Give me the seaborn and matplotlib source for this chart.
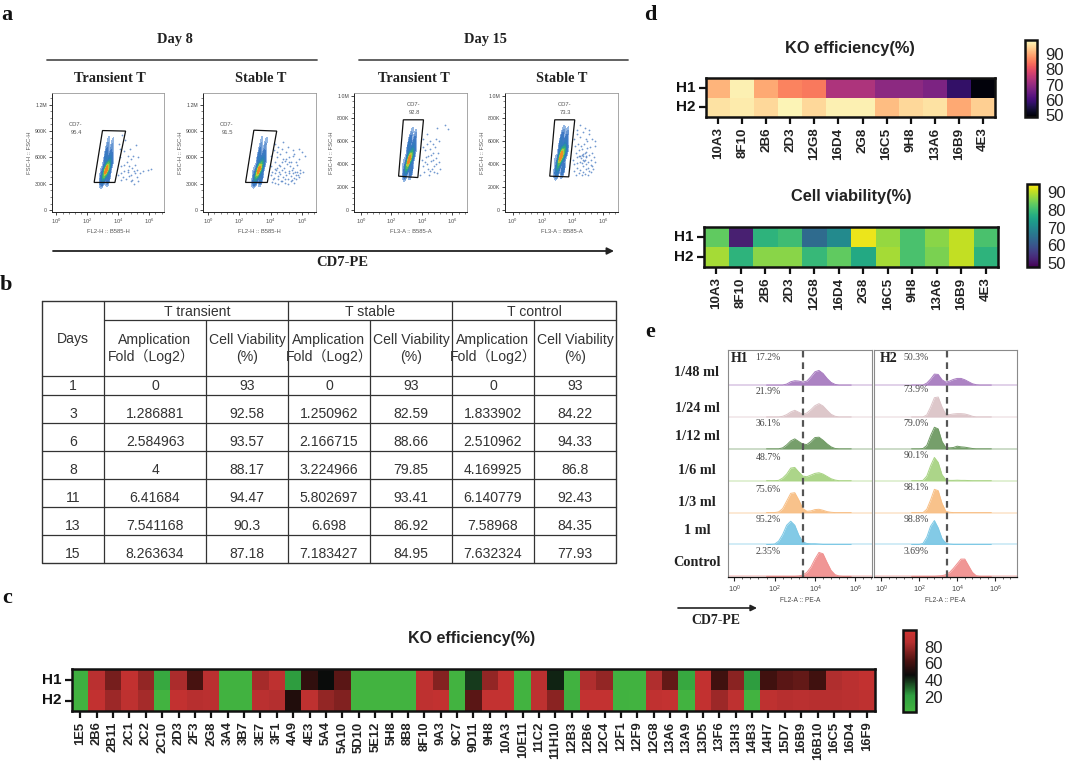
import numpy as np
import pandas as pd
import matplotlib
matplotlib.use("Agg")
import matplotlib.pyplot as plt
import seaborn as sns
from matplotlib.colors import LinearSegmentedColormap
from matplotlib.ticker import FixedLocator

sns.set_theme(style="white")
plt.rcParams['font.family'] = ['Liberation Sans', 'Noto Sans CJK SC', 'DejaVu Sans']
plt.rcParams['mathtext.fontset'] = 'custom'
plt.rcParams['mathtext.rm'] = 'Liberation Sans'
SERIF = 'Liberation Serif'

# ---------- panel a: flow plots ----------
# core density anchors (log10 signal, FSC in millions, weight)
core1_x = [3.25, 3.10, 3.40, 3.00, 3.35, 2.90, 3.60, 3.20, 3.50, 3.30, 3.60, 3.40, 3.70, 2.85]
core1_y = [0.47, 0.42, 0.50, 0.36, 0.36, 0.45, 0.55, 0.60, 0.62, 0.72, 0.74, 0.84, 0.82, 0.34]
core1_w = [12, 7, 7, 4, 4, 1.5, 2, 4, 3, 2, 1.5, 1, 0.7, 1.5]
core2_x = [3.28, 3.13, 3.43, 3.03, 3.38, 2.93, 3.63, 3.26, 3.56, 3.36, 3.66, 3.48, 3.76, 2.88]
core2_y = [0.47, 0.42, 0.50, 0.36, 0.36, 0.45, 0.55, 0.60, 0.62, 0.72, 0.74, 0.84, 0.82, 0.34]
core2_w = [12, 7, 7, 4, 4, 1.5, 2, 4, 3, 2, 1.5, 1, 0.7, 1.5]
core3_x = [3.18, 3.03, 3.33, 2.95, 3.28, 2.82, 3.52, 3.15, 3.45, 3.25, 3.55, 3.40, 3.62, 2.78]
core3_y = [0.45, 0.40, 0.47, 0.33, 0.34, 0.42, 0.50, 0.55, 0.56, 0.63, 0.64, 0.71, 0.69, 0.32]
core3_w = [12, 7, 7, 4, 4, 1.5, 2, 4, 3, 2, 1.5, 1, 0.7, 1.5]
core4_x = [3.24, 3.07, 3.41, 2.98, 3.34, 2.84, 3.60, 3.20, 3.50, 3.30, 3.62, 3.44, 3.68, 2.80]
core4_y = [0.48, 0.42, 0.50, 0.34, 0.35, 0.44, 0.52, 0.57, 0.58, 0.65, 0.66, 0.72, 0.71, 0.33]
core4_w = [12, 7, 7, 4, 4, 1.5, 2.5, 4, 3, 2, 1.5, 1, 0.7, 1.5]

dots1_x = [4.0, 4.2, 4.1, 4.4, 4.3, 4.6, 4.5, 4.8, 4.7, 5.0, 4.9, 5.2, 5.1, 5.4, 5.3, 4.05, 4.25, 4.55, 4.75, 4.95,
           5.15, 4.35, 4.65, 4.85, 5.05, 4.15, 4.45, 5.6, 5.9, 6.1, 4.6, 4.4, 4.2, 4.8, 5.0, 4.9, 4.7, 5.2, 5.3, 4.1]
dots1_y = [0.40, 0.42, 0.60, 0.45, 0.38, 0.43, 0.35, 0.40, 0.50, 0.45, 0.34, 0.38, 0.52, 0.42, 0.60, 0.75, 0.85, 0.55, 0.70, 0.62,
           0.74, 0.67, 0.46, 0.33, 0.42, 0.50, 0.80, 0.45, 0.46, 0.47, 0.62, 0.52, 0.34, 0.58, 0.30, 0.48, 0.39, 0.46, 0.33, 0.70]
dots2_x = [4.0, 4.1, 4.2, 4.3, 4.4, 4.5, 4.6, 4.7, 4.8, 4.9, 5.0, 5.1, 5.2, 5.3, 5.4, 5.5, 5.6, 5.7, 5.8, 5.9,
           4.05, 4.15, 4.25, 4.35, 4.45, 4.55, 4.65, 4.75, 4.85, 4.95, 5.05, 5.15, 5.25, 5.35, 5.45, 5.55, 5.65, 5.75,
           4.0, 4.2, 4.4, 4.6, 4.8, 5.0, 5.2, 5.4, 5.6, 5.8, 6.0, 6.2, 4.3, 4.5, 4.7, 4.9, 5.1, 5.3, 5.5, 5.7,
           4.1, 4.3, 4.5, 4.7, 4.9, 5.1, 5.3, 5.5, 5.9, 4.4, 4.8, 5.2, 6.1, 4.6, 5.0, 5.4, 5.8, 4.25, 4.55, 5.35]
dots2_y = [0.40, 0.44, 0.37, 0.42, 0.48, 0.36, 0.41, 0.46, 0.38, 0.43, 0.40, 0.36, 0.45, 0.39, 0.42, 0.37, 0.40, 0.44, 0.38, 0.42,
           0.50, 0.35, 0.55, 0.46, 0.39, 0.52, 0.33, 0.55, 0.48, 0.35, 0.53, 0.42, 0.50, 0.34, 0.48, 0.43, 0.35, 0.40,
           0.62, 0.68, 0.60, 0.64, 0.58, 0.66, 0.60, 0.62, 0.55, 0.58, 0.66, 0.62, 0.75, 0.72, 0.70, 0.56, 0.72, 0.55, 0.64, 0.52,
           0.32, 0.31, 0.30, 0.33, 0.31, 0.30, 0.33, 0.31, 0.46, 0.66, 0.78, 0.55, 0.43, 0.50, 0.58, 0.68, 0.70, 0.47, 0.44, 0.46]
dots3_x = [3.9, 4.0, 4.1, 4.2, 4.3, 4.4, 4.5, 4.6, 4.7, 4.8, 4.9, 5.0, 5.1, 5.2, 4.05, 4.15, 4.25, 4.35, 4.45, 4.55,
           4.65, 4.75, 4.85, 4.95, 5.05, 4.1, 4.3, 4.5, 4.7, 4.9, 5.1, 4.6, 4.8, 5.0, 5.5, 5.7, 4.4, 4.2]
dots3_y = [0.30, 0.44, 0.38, 0.52, 0.40, 0.47, 0.34, 0.43, 0.50, 0.38, 0.45, 0.32, 0.42, 0.36, 0.55, 0.33, 0.46, 0.58, 0.30, 0.53,
           0.36, 0.44, 0.55, 0.40, 0.50, 0.62, 0.66, 0.60, 0.58, 0.62, 0.60, 0.48, 0.33, 0.72, 0.74, 0.71, 0.36, 0.42]
dots4_x = [4.0, 4.1, 4.2, 4.3, 4.4, 4.5, 4.6, 4.7, 4.8, 4.9, 5.0, 5.1, 5.2, 5.3, 5.4, 5.5, 4.05, 4.15, 4.25, 4.35,
           4.45, 4.55, 4.65, 4.75, 4.85, 4.95, 5.05, 5.15, 5.25, 5.35, 4.1, 4.3, 4.5, 4.7, 4.9, 5.1, 5.3, 5.5, 4.2, 4.4,
           4.6, 4.8, 5.0, 5.2, 4.55, 4.65, 4.75, 4.85, 4.6, 4.7, 4.8, 4.9, 4.5, 4.7, 5.0, 4.3, 4.6, 4.9, 5.2, 4.4,
           4.8, 5.1, 4.45, 4.95, 5.45, 4.25]
dots4_y = [0.44, 0.40, 0.50, 0.46, 0.52, 0.42, 0.48, 0.44, 0.50, 0.46, 0.42, 0.48, 0.44, 0.50, 0.46, 0.42, 0.34, 0.56, 0.37, 0.58,
           0.35, 0.56, 0.33, 0.58, 0.36, 0.54, 0.34, 0.55, 0.38, 0.36, 0.62, 0.66, 0.64, 0.68, 0.62, 0.66, 0.62, 0.60, 0.30, 0.32,
           0.30, 0.31, 0.30, 0.33, 0.45, 0.47, 0.43, 0.47, 0.41, 0.49, 0.44, 0.51, 0.47, 0.38, 0.37, 0.41, 0.53, 0.40, 0.39, 0.47,
           0.72, 0.70, 0.74, 0.60, 0.56, 0.70]

gate1_x = [2.98, 4.47, 3.78, 2.44]
gate1_y = [0.906, 0.90, 0.316, 0.316]
gate2_x = [2.93, 4.39, 3.79, 2.40]
gate2_y = [0.91, 0.90, 0.316, 0.316]
gate3_x = [2.78, 4.10, 3.73, 2.47]
gate3_y = [0.788, 0.788, 0.282, 0.294]
gate4_x = [2.80, 4.13, 3.73, 2.47]
gate4_y = [0.788, 0.788, 0.288, 0.294]

# ---------- panel b: table ----------
days = ["1", "3", "6", "8", "11", "13", "15"]
t_transient_fold = ["0", "1.286881", "2.584963", "4", "6.41684", "7.541168", "8.263634"]
t_transient_via = ["93", "92.58", "93.57", "88.17", "94.47", "90.3", "87.18"]
t_stable_fold = ["0", "1.250962", "2.166715", "3.224966", "5.802697", "6.698", "7.183427"]
t_stable_via = ["93", "82.59", "88.66", "79.85", "93.41", "86.92", "84.95"]
t_control_fold = ["0", "1.833902", "2.510962", "4.169925", "6.140779", "7.58968", "7.632324"]
t_control_via = ["93", "84.22", "94.33", "86.8", "92.43", "84.35", "77.93"]

# ---------- panel c: big heatmap ----------
clones_c = ["1E5", "2B6", "2B11", "2C1", "2C2", "2C10", "2D3", "2F3", "2G8", "3A4", "3B7", "3E7", "3F1", "4A9", "4E3", "5A4",
            "5A10", "5D10", "5E12", "5H8", "8B8", "8F10", "9A3", "9C7", "9D11", "9H8", "10A3", "10E11", "11C2", "11H10",
            "12B3", "12B6", "12C4", "12F1", "12F9", "12G8", "13A6", "13A9", "13D5", "13F6", "13H3", "14B3", "14H7", "15D7",
            "16B9", "16B10", "16C5", "16D4", "16F9"]
ko_c_h1 = [8, 88, 72, 92, 78, 14, 83, 62, 88, 5, 5, 82, 90, 22, 56, 46, 66, 4, 4, 4, 5, 90, 75, 4, 38, 78, 92, 5, 88, 42,
           5, 84, 78, 5, 5, 84, 68, 14, 92, 60, 76, 22, 60, 66, 68, 60, 84, 88, 92]
ko_c_h2 = [4, 92, 80, 90, 82, 4, 92, 86, 88, 5, 5, 88, 85, 52, 90, 78, 74, 3, 3, 3, 4, 90, 92, 4, 66, 93, 93, 4, 90, 76,
           7, 93, 93, 5, 4, 91, 93, 4, 92, 80, 90, 4, 90, 86, 88, 86, 86, 88, 90]

# ---------- panel d: small heatmaps ----------
clones_d = ["10A3", "8F10", "2B6", "2D3", "12G8", "16D4", "2G8", "16C5", "9H8", "13A6", "16B9", "4E3"]
ko_d_h1 = [91, 97.5, 90, 86, 85, 73, 73, 69, 69, 67, 58, 50]
ko_d_h2 = [96, 97, 95, 98, 95, 97.5, 97.5, 92, 95, 96, 90, 94]
via_d_h1 = [83, 52, 78, 80, 64, 70, 93, 87, 81, 86, 90, 81]
via_d_h2 = [88, 78, 86, 86, 79, 83, 76, 88, 81, 85, 90, 78]

# ---------- panel e: histograms ----------
doses = ["Control", "1 ml", "1/3 ml", "1/6 ml", "1/12 ml", "1/24 ml", "1/48 ml"]
pct_h1 = ["2.35%", "95.2%", "75.6%", "48.7%", "36.1%", "21.9%", "17.2%"]
pct_h2 = ["3.69%", "98.8%", "98.1%", "90.1%", "79.0%", "73.9%", "50.3%"]
hist_colors = ["#f0908f", "#7cc8e5", "#f8bf85", "#a8d383", "#6f9a63", "#dcc4c8", "#a87cc0"]
log_grid = [1.6, 1.8, 2.0, 2.2, 2.4, 2.6, 2.8, 3.0, 3.2, 3.4, 3.6, 3.8, 4.0, 4.2, 4.4, 4.6, 4.8, 5.0, 5.2, 5.4, 5.6, 5.8]
h1_control = [0, 0, 0, 0, 0, 0, 0, 0, 1, 4, 12, 28, 52, 72, 68, 42, 18, 5, 1, 0, 0, 0]
h1_1ml = [0, 0, 1, 10, 30, 58, 70, 58, 28, 8, 3, 2, 2, 1, 0, 0, 0, 0, 0, 0, 0, 0]
h1_1_3 = [0, 0, 0, 2, 12, 35, 58, 60, 38, 12, 4, 5, 9, 10, 7, 3, 1, 0, 0, 0, 0, 0]
h1_1_6 = [0, 0, 0, 1, 8, 20, 38, 40, 26, 14, 12, 17, 22, 24, 20, 13, 6, 2, 0, 0, 0, 0]
h1_1_12 = [0, 0, 0, 0, 3, 12, 24, 30, 22, 14, 13, 22, 34, 35, 26, 15, 6, 1, 0, 0, 0, 0]
h1_1_24 = [0, 0, 0, 0, 2, 7, 15, 20, 14, 8, 12, 22, 34, 40, 33, 20, 8, 2, 0, 0, 0, 0]
h1_1_48 = [0, 0, 0, 0, 0, 3, 10, 13, 12, 9, 12, 25, 40, 44, 35, 20, 8, 2, 0, 0, 0, 0]
h2_control = [0, 0, 0, 0, 0, 0, 0, 1, 2, 5, 12, 24, 38, 52, 52, 32, 12, 2, 0, 0, 0, 0]
h2_1ml = [0, 0, 0, 3, 22, 55, 72, 50, 18, 4, 1, 0, 0, 0, 0, 0, 0, 0, 0, 0, 0, 0]
h2_1_3 = [0, 0, 0, 0, 10, 38, 70, 66, 28, 4, 1, 0, 0, 0, 0, 0, 0, 0, 0, 0, 0, 0]
h2_1_6 = [0, 0, 0, 1, 14, 45, 70, 55, 18, 3, 1, 1, 1.5, 1, 1, 0.5, 0, 0, 0, 0, 0, 0]
h2_1_12 = [0, 0, 0, 1, 10, 40, 65, 60, 22, 4, 3, 4, 8, 6, 5, 3, 1, 0, 0, 0, 0, 0]
h2_1_24 = [0, 0, 0, 0, 6, 30, 58, 60, 30, 8, 7, 9, 10, 10, 9, 6, 2, 0, 0, 0, 0, 0]
h2_1_48 = [0, 0, 0, 0, 6, 18, 33, 32, 16, 9, 12, 17, 20, 20, 16, 10, 4, 1, 0, 0, 0, 0]

W, H = 1080, 777
fig = plt.figure(figsize=(W / 100, H / 100), dpi=100, facecolor="white")


def px_axes(x0, y0, x1, y1):
    return fig.add_axes([x0 / W, 1 - y1 / H, (x1 - x0) / W, (y1 - y0) / H])


density_cmap = LinearSegmentedColormap.from_list(
    "flow", [(0, "#a9c6ea"), (0.12, "#3f78c4"), (0.35, "#2a7fb8"), (0.55, "#2fa880"), (0.72, "#6fc050"),
             (0.85, "#e8cf30"), (0.94, "#f08020"), (1, "#d83020")])


def flow_panel(box, xlim, ylim, yticks, yticklabels, core, dots, gate, xlabel):
    ax = px_axes(*box)
    frame = pd.DataFrame({"x": core[0], "y": core[1], "w": core[2]})
    sns.kdeplot(data=frame, x="x", y="y", weights="w", fill=True, levels=12, thresh=0.1,
                cmap=density_cmap, bw_adjust=0.72, ax=ax)
    ax.set_xlim(*xlim)
    ax.set_ylim(*ylim)
    ax.scatter(dots[0], dots[1], s=1.6, color="#4f7fc4", alpha=0.8, linewidths=0)
    ax.fill(gate[0], gate[1], fill=False, edgecolor="#111111", linewidth=0.9)
    ax.set_xticks([0, 2, 4, 6])
    ax.set_xticklabels(["$10^{0}$", "$10^{2}$", "$10^{4}$", "$10^{6}$"], fontsize=4.2, color="#555555")
    ax.set_xticks(np.arange(0, 7, 0.4), minor=True)
    ax.set_yticks(yticks)
    ax.set_yticklabels(yticklabels, fontsize=3.8, color="#444444")
    ax.tick_params(axis="both", which="major", length=2.2, width=0.6, pad=1.5, left=True, bottom=True)
    ax.tick_params(axis="both", which="minor", length=1.2, width=0.4, left=True, bottom=True)
    ax.yaxis.set_minor_locator(FixedLocator(np.arange(0, ylim[1], yticks[1] / 4)))
    ax.set_xlabel(xlabel, fontsize=4.2, color="#555555", labelpad=2)
    ax.set_ylabel("FSC-H :: FSC-H", fontsize=4.2, color="#555555", labelpad=1.5)
    for s in ["left", "bottom"]:
        ax.spines[s].set_color("#222222")
        ax.spines[s].set_linewidth(0.7)
    for s in ["top", "right"]:
        ax.spines[s].set_color("#999999")
        ax.spines[s].set_linewidth(0.6)


y8_ticks = [0, 0.3, 0.6, 0.9, 1.2]
y8_labels = ["0", "300K", "600K", "900K", "1.2M"]
y15_ticks = [0, 0.2, 0.4, 0.6, 0.8, 1.0]
y15_labels = ["0", "200K", "400K", "600K", "800K", "1.0M"]
flow_panel((52, 93, 164, 212), (-0.28, 6.95), (-0.02, 1.333), y8_ticks, y8_labels,
           (core1_x, core1_y, core1_w), (dots1_x, dots1_y), (gate1_x, gate1_y), "FL2-H :: B585-H")
flow_panel((203, 93, 316, 212), (-0.32, 6.9), (-0.02, 1.333), y8_ticks, y8_labels,
           (core2_x, core2_y, core2_w), (dots2_x, dots2_y), (gate2_x, gate2_y), "FL2-H :: B585-H")
flow_panel((354, 93, 467, 212), (-0.45, 6.95), (-0.02, 1.023), y15_ticks, y15_labels,
           (core3_x, core3_y, core3_w), (dots3_x, dots3_y), (gate3_x, gate3_y), "FL3-A :: B585-A")
flow_panel((505, 93, 618, 212), (-0.5, 7.0), (-0.02, 1.023), y15_ticks, y15_labels,
           (core4_x, core4_y, core4_w), (dots4_x, dots4_y), (gate4_x, gate4_y), "FL3-A :: B585-A")


# ---------- heatmaps ----------
def heat_panel(box, cbar_box, values, labels, cmap, vmin, vmax, cbar_ticks, tick_size, cbar_size):
    ax = px_axes(*box)
    cax = px_axes(*cbar_box)
    frame = pd.DataFrame(values, index=["H1", "H2"], columns=labels)
    sns.heatmap(frame, ax=ax, cbar_ax=cax, cmap=cmap, vmin=vmin, vmax=vmax, linewidths=0,
                xticklabels=labels, yticklabels=["H1", "H2"])
    ax.tick_params(axis="both", length=5, width=1.6, color="#111111", left=True, bottom=True, pad=2.5)
    ax.set_xticklabels(labels, rotation=90, fontsize=tick_size, fontweight="bold", color="#222222")
    ax.set_yticklabels(["H1", "H2"], rotation=0, fontsize=11, fontweight="bold", color="#111111")
    for s in ax.spines.values():
        s.set_visible(True)
        s.set_color("#111111")
        s.set_linewidth(1.8)
    cax.set_yticks(cbar_ticks)
    cax.tick_params(axis="y", direction="in", length=3.5, width=1, color="#111111",
                    labelsize=cbar_size, labelcolor="#222222", pad=6, right=True)
    cbar = ax.collections[0].colorbar
    cbar.outline.set_visible(True)
    cbar.outline.set_edgecolor("#111111")
    cbar.outline.set_linewidth(1.8)


ko_cmap = LinearSegmentedColormap.from_list(
    "ko", [(0, "#44b540"), (0.2, "#2f9f40"), (0.45, "#0a0a0a"), (0.62, "#4a1210"), (0.85, "#b52f2f"), (1, "#d03432")])
heat_panel((72, 669, 875, 711), (903, 630, 916, 712), [ko_c_h1, ko_c_h2], clones_c, ko_cmap, 2, 100,
           [20, 40, 60, 80], 9.4, 12)
heat_panel((706, 78, 995, 117), (1025, 40, 1037, 117), [ko_d_h1, ko_d_h2], clones_d, "magma", 49, 99,
           [50, 60, 70, 80, 90], 9.6, 12)
heat_panel((704, 227, 998, 267), (1027, 184, 1039, 267), [via_d_h1, via_d_h2], clones_d, "viridis", 48, 94.3,
           [50, 60, 70, 80, 90], 9.6, 12)


# ---------- histograms ----------
def hist_panel(box, xlim, rows, dash_x):
    ax = px_axes(*box)
    for i, (row, color) in enumerate(zip(rows, hist_colors)):
        heights = i + np.array(row) / 96
        ax.axhline(i, color=color, alpha=0.35, linewidth=1.4)
        ax.fill_between(log_grid, i, heights, color=color, alpha=0.95, linewidth=0)
        sns.lineplot(x=log_grid, y=heights, ax=ax, color=color, linewidth=0.7, errorbar=None)
    ax.set_xlim(*xlim)
    ax.set_ylim(-0.02, 7.1)
    ax.axvline(dash_x, color="#555555", linestyle=(0, (3, 2.2)), linewidth=1.6)
    ax.set_yticks([])
    ax.set_xticks([0, 2, 4, 6])
    ax.set_xticklabels(["$10^{0}$", "$10^{2}$", "$10^{4}$", "$10^{6}$"], fontsize=5.2, color="#444444")
    ax.set_xticks(np.arange(0, 7, 0.4), minor=True)
    ax.tick_params(axis="x", which="major", length=3, width=0.8, pad=2, bottom=True)
    ax.tick_params(axis="x", which="minor", length=1.5, width=0.5, bottom=True)
    ax.set_xlabel("FL2-A :: PE-A", fontsize=4.8, color="#444444", labelpad=1.5)
    for s in ["left", "top", "right"]:
        ax.spines[s].set_color("#8a8a8a")
        ax.spines[s].set_linewidth(0.8)
    ax.spines["bottom"].set_color("#111111")
    ax.spines["bottom"].set_linewidth(0.9)


rows_h1 = [h1_control, h1_1ml, h1_1_3, h1_1_6, h1_1_12, h1_1_24, h1_1_48]
rows_h2 = [h2_control, h2_1ml, h2_1_3, h2_1_6, h2_1_12, h2_1_24, h2_1_48]
hist_panel((728, 350, 872, 577), (-0.31, 6.83), rows_h1, 3.39)
hist_panel((874, 350, 1017, 577), (-0.38, 7.15), rows_h2, 3.47)

# ---------- overlay in pixel units: table, headings, arrows ----------
ov = fig.add_axes([0, 0, 1, 1], zorder=10)
ov.set_xlim(0, W)
ov.set_ylim(H, 0)
ov.axis("off")
ov.patch.set_alpha(0)

for letter, x, y in [("a", 7, 15), ("b", 6, 285), ("c", 7, 598), ("d", 650, 15), ("e", 650, 332)]:
    ov.text(x, y, letter, family=SERIF, fontweight="bold", fontsize=16, ha="center", va="center", color="#111111")


def serif_bold(x, y, s, size=10.4, color="#222222"):
    ov.text(x, y, s, family=SERIF, fontweight="bold", fontsize=size, ha="center", va="center", color=color)


for x, s in [(175, "Day 8"), (485, "Day 15")]:
    serif_bold(x, 40, s)
for x, s in [(110, "Transient T"), (261, "Stable T"), (414, "Transient T"), (562, "Stable T")]:
    serif_bold(x, 79, s)
ov.plot([47, 317], [60, 60], color="#555555", linewidth=1.3)
ov.plot([359, 628], [60, 60], color="#555555", linewidth=1.3)
ov.annotate("", xy=(614, 251), xytext=(53, 251),
            arrowprops=dict(arrowstyle="-|>", color="#222222", lw=1.3, mutation_scale=10, shrinkA=0, shrinkB=0))
serif_bold(342, 262, "CD7-PE", 10.5)

for x, y, v in [(76, 124, "95.4"), (227, 124, "91.5"), (414, 104, "92.8"), (565, 104, "73.3")]:
    ov.text(x, y, "CD7-", fontsize=4.2, color="#555555", ha="center", va="center")
    ov.text(x, y + 8.5, v, fontsize=4.2, color="#555555", ha="center", va="center")

# table grid
row_y = [301, 320, 376, 394.5, 423, 450.5, 478.5, 506.5, 534.5, 562.5]
grid_c = "#333333"
ov.plot([42, 616, 616, 42, 42], [301, 301, 562.5, 562.5, 301], color=grid_c, linewidth=1.0)
for y in row_y[2:-1]:
    ov.plot([42, 616], [y, y], color=grid_c, linewidth=0.9)
ov.plot([104, 616], [320, 320], color=grid_c, linewidth=0.9)
for x in [104, 288, 452]:
    ov.plot([x, x], [301, 562.5], color=grid_c, linewidth=0.9)
for x in [206, 370, 534]:
    ov.plot([x, x], [320, 562.5], color=grid_c, linewidth=0.9)

table_c = "#333333"
tsize = 10.1
for x, s in [(197, "T transient"), (370, "T stable"), (534, "T control")]:
    ov.text(x, 312, s, fontsize=tsize, color=table_c, ha="center", va="center")
ov.text(73, 339, "Days", fontsize=tsize, color=table_c, ha="center", va="center")
for a, f, v in [(155, 151, 247), (329, 329, 411), (493, 493, 575)]:
    ov.text(a, 340, "Amplication", fontsize=tsize, color=table_c, ha="center", va="center")
    ov.text(f, 357, "Fold（Log2）", fontsize=tsize, color=table_c, ha="center", va="center")
    ov.text(v, 340, "Cell Viability", fontsize=tsize, color=table_c, ha="center", va="center")
    ov.text(v, 357, "(%)", fontsize=tsize, color=table_c, ha="center", va="center")

table_y = [386, 414, 442, 470, 498, 526, 554]
columns = [(73, days), (155, t_transient_fold), (247, t_transient_via), (329, t_stable_fold),
           (411, t_stable_via), (493, t_control_fold), (575, t_control_via)]
for x, col in columns:
    for y, s in zip(table_y, col):
        ov.text(x, y, s, fontsize=tsize, color=table_c, ha="center", va="center")

# heatmap titles
ov.text(472, 638, "KO efficiency(%)", fontsize=11.5, fontweight="bold", color="#222222", ha="center", va="center")
ov.text(850, 48, "KO efficiency(%)", fontsize=11.8, fontweight="bold", color="#222222", ha="center", va="center")
ov.text(851, 196, "Cell viability(%)", fontsize=11.8, fontweight="bold", color="#222222", ha="center", va="center")

# histogram labels
label_y = [562, 530, 503, 471, 437, 408, 373]
for y, s in zip(label_y, doses):
    serif_bold(697, y, s, 10.3)
for y, a, b in zip([552, 520, 489, 457, 424, 391, 358], pct_h1, pct_h2):
    ov.text(768, y, a, family=SERIF, fontsize=7, color="#444444", ha="center", va="center")
    ov.text(916, y - 1, b, family=SERIF, fontsize=7, color="#444444", ha="center", va="center")
serif_bold(740, 358, "H1", 10)
serif_bold(889, 358, "H2", 10)
ov.annotate("", xy=(757, 608), xytext=(678, 608),
            arrowprops=dict(arrowstyle="-|>", color="#222222", lw=1.2, mutation_scale=9, shrinkA=0, shrinkB=0))
serif_bold(716, 620, "CD7-PE", 10)

fig.savefig("out.png", dpi=100)
